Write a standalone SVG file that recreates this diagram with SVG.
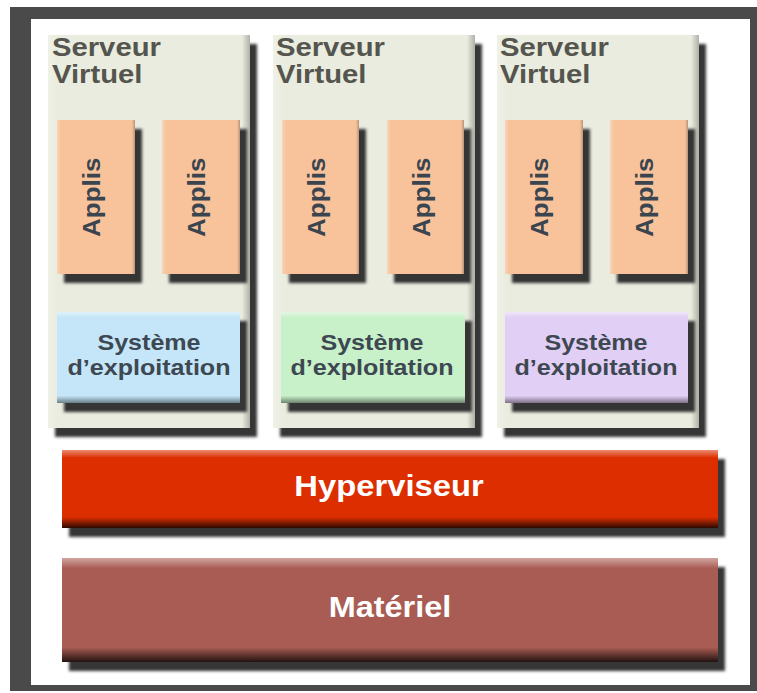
<svg xmlns="http://www.w3.org/2000/svg" width="757" height="693" viewBox="0 0 757 693">
<defs>
<filter id="sh" x="-10%" y="-10%" width="130%" height="130%">
<feGaussianBlur in="SourceAlpha" stdDeviation="1.6"/>
<feOffset dx="7" dy="9" result="b"/>
<feFlood flood-color="#2a2a2a" flood-opacity="0.95"/>
<feComposite in2="b" operator="in" result="s"/>
<feMerge><feMergeNode in="s"/><feMergeNode in="SourceGraphic"/></feMerge>
</filter>
<linearGradient id="bev" x1="0" y1="0" x2="0" y2="1">
<stop offset="0" stop-color="#fff" stop-opacity="0.5"/>
<stop offset="0.06" stop-color="#fff" stop-opacity="0"/>
<stop offset="0.92" stop-color="#000" stop-opacity="0"/>
<stop offset="1" stop-color="#000" stop-opacity="0.45"/>
</linearGradient>
<linearGradient id="bevBar" x1="0" y1="0" x2="0" y2="1">
<stop offset="0" stop-color="#fff" stop-opacity="0.45"/>
<stop offset="0.1" stop-color="#fff" stop-opacity="0"/>
<stop offset="0.86" stop-color="#000" stop-opacity="0"/>
<stop offset="1" stop-color="#000" stop-opacity="0.8"/>
</linearGradient>
<linearGradient id="bevL" x1="0" y1="0" x2="1" y2="0">
<stop offset="0" stop-color="#fff" stop-opacity="0.3"/>
<stop offset="0.05" stop-color="#fff" stop-opacity="0"/>
<stop offset="0.96" stop-color="#000" stop-opacity="0"/>
<stop offset="1" stop-color="#000" stop-opacity="0.25"/>
</linearGradient>
</defs>
<style>
.srv{fill:#e9ecde}
.app{fill:#f8c39b}
.t{font-family:"Liberation Sans",Arial,sans-serif;font-weight:bold}
.st{font-size:25px;fill:#55554f}
.at{font-size:23px;fill:#3b4550}
.ot{font-size:22px;fill:#3d4852;text-anchor:middle}
.bt{font-size:29px;fill:#ffffff;text-anchor:middle}
</style>
<rect x="10" y="7" width="747" height="684" fill="#4a4a4a"/>
<rect x="31" y="19" width="719" height="666" fill="#ffffff"/>

<g id="serveur1">
<rect class="srv" x="48" y="35" width="202" height="393" filter="url(#sh)"/>
<rect x="48" y="35" width="202" height="393" fill="url(#bevL)"/>
<text class="t st" transform="translate(52,56) scale(1.17,1)">Serveur</text>
<text class="t st" transform="translate(52,83) scale(1.17,1)">Virtuel</text>
</g>
<g id="serveur2">
<rect class="srv" x="273" y="35" width="202" height="393" filter="url(#sh)"/>
<rect x="273" y="35" width="202" height="393" fill="url(#bevL)"/>
<text class="t st" transform="translate(276,56) scale(1.17,1)">Serveur</text>
<text class="t st" transform="translate(276,83) scale(1.17,1)">Virtuel</text>
</g>
<g id="serveur3">
<rect class="srv" x="497" y="35" width="202" height="393" filter="url(#sh)"/>
<rect x="497" y="35" width="202" height="393" fill="url(#bevL)"/>
<text class="t st" transform="translate(500,56) scale(1.17,1)">Serveur</text>
<text class="t st" transform="translate(500,83) scale(1.17,1)">Virtuel</text>
</g>

<g id="applis1a">
<rect class="app" x="57" y="120" width="78" height="154" filter="url(#sh)"/>
<rect x="57" y="120" width="78" height="154" fill="url(#bevL)"/>
<text class="t at" transform="translate(100,237) rotate(-90) scale(1.13,1)">Applis</text>
</g>
<g id="applis1b">
<rect class="app" x="162" y="120" width="78" height="154" filter="url(#sh)"/>
<rect x="162" y="120" width="78" height="154" fill="url(#bevL)"/>
<text class="t at" transform="translate(205,237) rotate(-90) scale(1.13,1)">Applis</text>
</g>
<g id="applis2a">
<rect class="app" x="282" y="120" width="77" height="154" filter="url(#sh)"/>
<rect x="282" y="120" width="77" height="154" fill="url(#bevL)"/>
<text class="t at" transform="translate(325,237) rotate(-90) scale(1.13,1)">Applis</text>
</g>
<g id="applis2b">
<rect class="app" x="387" y="120" width="77" height="154" filter="url(#sh)"/>
<rect x="387" y="120" width="77" height="154" fill="url(#bevL)"/>
<text class="t at" transform="translate(430,237) rotate(-90) scale(1.13,1)">Applis</text>
</g>
<g id="applis3a">
<rect class="app" x="505" y="120" width="78" height="154" filter="url(#sh)"/>
<rect x="505" y="120" width="78" height="154" fill="url(#bevL)"/>
<text class="t at" transform="translate(548,237) rotate(-90) scale(1.13,1)">Applis</text>
</g>
<g id="applis3b">
<rect class="app" x="610" y="120" width="78" height="154" filter="url(#sh)"/>
<rect x="610" y="120" width="78" height="154" fill="url(#bevL)"/>
<text class="t at" transform="translate(653,237) rotate(-90) scale(1.13,1)">Applis</text>
</g>

<g id="os1">
<rect x="57" y="312" width="183" height="91" fill="#c4e6f8" filter="url(#sh)"/>
<rect x="57" y="312" width="183" height="91" fill="url(#bev)"/>
<text class="t ot" transform="translate(149,350) scale(1.14,1)">Système</text>
<text class="t ot" transform="translate(149,375) scale(1.14,1)">d’exploitation</text>
</g>
<g id="os2">
<rect x="281" y="312" width="184" height="91" fill="#c8f0c9" filter="url(#sh)"/>
<rect x="281" y="312" width="184" height="91" fill="url(#bev)"/>
<text class="t ot" transform="translate(372,350) scale(1.14,1)">Système</text>
<text class="t ot" transform="translate(372,375) scale(1.14,1)">d’exploitation</text>
</g>
<g id="os3">
<rect x="505" y="312" width="183" height="91" fill="#e2cff5" filter="url(#sh)"/>
<rect x="505" y="312" width="183" height="91" fill="url(#bev)"/>
<text class="t ot" transform="translate(596,350) scale(1.14,1)">Système</text>
<text class="t ot" transform="translate(596,375) scale(1.14,1)">d’exploitation</text>
</g>

<g id="hyperviseur">
<rect x="62" y="450" width="656" height="78" fill="#dd2f00" filter="url(#sh)"/>
<rect x="62" y="450" width="656" height="78" fill="url(#bevBar)"/>
<text class="t bt" transform="translate(389,496) scale(1.13,1)">Hyperviseur</text>
</g>
<g id="materiel">
<rect x="62" y="558" width="656" height="104" fill="#a95b53" filter="url(#sh)"/>
<rect x="62" y="558" width="656" height="104" fill="url(#bevBar)"/>
<text class="t bt" transform="translate(390,617) scale(1.12,1)">Matériel</text>
</g>
<g id="connectors"/>
</svg>
